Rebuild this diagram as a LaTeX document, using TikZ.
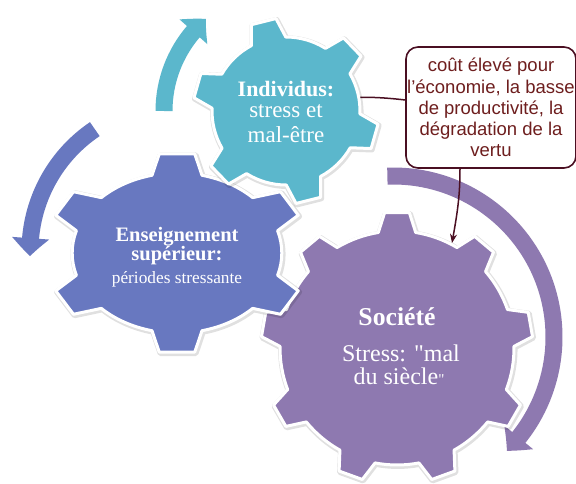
\documentclass[tikz,border=0pt]{standalone}
\usepackage{fontspec}
\setmainfont{Liberation Serif}
\newfontfamily\notefont{Liberation Sans}
\usetikzlibrary{arrows.meta,bending}

\definecolor{tealgear}{HTML}{5BB7CC}
\definecolor{bluegear}{HTML}{6878C0}
\definecolor{purplegear}{HTML}{8E79B0}
\definecolor{linkcol}{HTML}{4A0F22}
\definecolor{notetext}{HTML}{6E1E1E}

\tikzset{
  gearedge/.style={draw=white, line width=3pt, line join=round},
  gearshadow/.style={draw=black, opacity=0.12, line width=5.5pt, line join=round},
  cyclearrow/.style={line width=17pt, -{Triangle[width=36pt,length=18pt,bend]}},
  headline/.style={text=white, anchor=base, inner sep=0pt, font=\bfseries\fontsize{#1}{#1}\selectfont},
  bodyline/.style={text=white, anchor=base, inner sep=0pt, font=\fontsize{#1}{#1}\selectfont},
  note/.style={draw=linkcol, line width=1.6pt, fill=white, rounded corners=12pt,
    minimum width=170pt, minimum height=121pt, inner sep=0pt, text=notetext,
    align=center, font=\notefont\fontsize{18.5}{21.2}\selectfont},
  link/.style={draw=linkcol, line width=1.5pt}
}

% gear: centre, teeth, first tooth angle, tip radius, root radius, x stretch, colour
\newcommand{\gear}[7]{%
  \pgfmathsetmacro{\gpitch}{360/#2}%
  \pgfmathsetmacro{\gtip}{0.13*\gpitch}%
  \pgfmathsetmacro{\groot}{0.23*\gpitch}%
  \pgfmathtruncatemacro{\glast}{#2-1}%
  \begin{scope}[shift={#1}, xscale=#6]
    \path[gearshadow, xshift=0.8pt, yshift=-1.2pt] (#3-\gpitch+\groot:#5)
      \foreach \k in {0,...,\glast} {
        arc[start angle=#3+\k*\gpitch-\gpitch+\groot, end angle=#3+\k*\gpitch-\groot, radius=#5]
        -- (#3+\k*\gpitch-\gtip:#4) -- (#3+\k*\gpitch+\gtip:#4)
        -- (#3+\k*\gpitch+\groot:#5)
      } -- cycle;
    \path[gearedge, fill=#7] (#3-\gpitch+\groot:#5)
      \foreach \k in {0,...,\glast} {
        arc[start angle=#3+\k*\gpitch-\gpitch+\groot, end angle=#3+\k*\gpitch-\groot, radius=#5]
        -- (#3+\k*\gpitch-\gtip:#4) -- (#3+\k*\gpitch+\gtip:#4)
        -- (#3+\k*\gpitch+\groot:#5)
      } -- cycle;
  \end{scope}}

\begin{document}
\begin{tikzpicture}[x=1pt, y=1pt]
    \useasboundingbox (0,0) rectangle (576,483);
    \clip (0,0) rectangle (576,483);
    \fill[white] (0,0) rectangle (576,483);

    % gear centres
    \coordinate (gSoc) at (397,135);
    \coordinate (gEns) at (177,230);
    \coordinate (gIndiv) at (286,372);
    \coordinate (socTip) at (452,240);

    % Societe
    \draw[cyclearrow, purplegear] (393,146) ++(92:161) arc[start angle=92, end angle=-45, radius=161];
    \gear{(gSoc)}{9}{90}{136}{117}{1}{purplegear}

    % Enseignement superieur
    \draw[cyclearrow, bluegear] (177,232) ++(124:147) arc[start angle=124, end angle=182, radius=147];
    \gear{(gEns)}{6}{90}{100}{80}{1.31}{bluegear}

    % Individus
    \draw[cyclearrow, tealgear] (gIndiv) ++(180:122) arc[start angle=180, end angle=131, radius=122];

    % callout
    \node[note] (cout) at (491,375.5) {coût élevé pour\\l’économie, la basse\\de productivité, la\\dégradation de la\\vertu};
    \draw[link] (gIndiv) to[bend left=12] (cout.175);

    \gear{(gIndiv)}{6}{104}{93}{74}{1}{tealgear}

    % texts
    \node[headline=22] (indiv1) at (286,386) {Individus:};
    \node[bodyline=23] (indiv2) at (286,365) {stress et};
    \node[bodyline=23] (indiv3) at (286,341) {mal-être};

    \node[headline=20.5] (ens1) at (177,241.5) {Enseignement};
    \node[headline=20.5] (ens2) at (177,223) {supérieur:};
    \node[bodyline=17.3] (ens3) at (177,199.7) {périodes stressante};

    \node[headline=25.7] (soc1) at (397,158) {Société};
    \node[bodyline=24] (soc2) at (401,121.5) {Stress: \textquotedbl mal};
    \node[bodyline=24] (soc3) at (399,98.5) {du siècle{\fontsize{15}{15}\selectfont\textquotedbl}};

    \draw[link, -{Stealth[length=9pt,width=7pt]}] ([xshift=-31pt]cout.south) to[out=-90, in=80] (socTip);
\end{tikzpicture}
\end{document}
